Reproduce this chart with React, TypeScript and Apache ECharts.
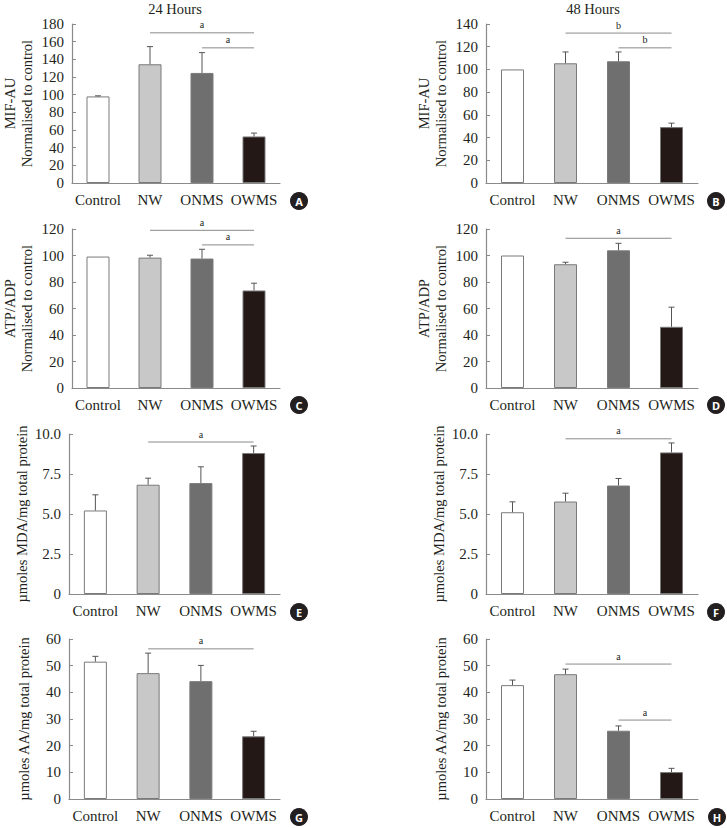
import React, { useEffect, useRef } from "react";
import * as echarts from "echarts";

const categories = ["Control", "NW", "ONMS", "OWMS"];
const barColors = ["#ffffff", "#c8c8c8", "#6f6f6f", "#231815"];

// A: MIF 24 h
const mifA = [98, 134.4, 124.6, 52.7];
const mifAErr = [98.7, 154.4, 147.6, 56.5];
const sigA = [[1, 3, 170], [2, 3, 153]];
const sigALabels = ["a", "a"];
// B: MIF 48 h
const mifB = [100, 105.4, 107.2, 49.2];
const mifBErr = [100, 115.4, 115.4, 52.7];
const sigB = [[1, 3, 132], [2, 3, 119]];
const sigBLabels = ["b", "b"];
// C: ATP/ADP 24 h
const atpC = [99.2, 98.4, 97.7, 73.6];
const atpCErr = [99.2, 100.2, 104.7, 79.1];
const sigC = [[1, 3, 119], [2, 3, 108]];
const sigCLabels = ["a", "a"];
// D: ATP/ADP 48 h
const atpD = [100, 93.4, 103.9, 46.2];
const atpDErr = [100, 94.9, 109.2, 61];
const sigD = [[1, 3, 113]];
const sigDLabels = ["a"];
// E: MDA 24 h
const mdaE = [5.22, 6.83, 6.93, 8.81];
const mdaEErr = [6.2, 7.24, 7.95, 9.25];
const sigE = [[1, 3, 9.5]];
const sigELabels = ["a"];
// F: MDA 48 h
const mdaF = [5.11, 5.78, 6.78, 8.85];
const mdaFErr = [5.76, 6.3, 7.22, 9.44];
const sigF = [[1, 3, 9.7]];
const sigFLabels = ["a"];
// G: AA 24 h
const aaG = [51.5, 47.2, 44.2, 23.5];
const aaGErr = [53.5, 54.7, 50.1, 25.4];
const sigG = [[1, 3, 56.3]];
const sigGLabels = ["a"];
// H: AA 48 h
const aaH = [42.7, 46.8, 25.6, 10.1];
const aaHErr = [44.6, 48.7, 27.4, 11.5];
const sigH = [[1, 3, 50.6], [2, 3, 29.6]];
const sigHLabels = ["a", "a"];

const columnTitles = ["24 Hours", "48 Hours"];
const panelLetters = ["A", "B", "C", "D", "E", "F", "G", "H"];

const mifName = "MIF-AU\nNormalised to control";
const atpName = "ATP/ADP\nNormalised to control";
const mdaName = "µmoles MDA/mg total protein";
const aaName = "µmoles AA/mg total protein";

const panels = [
  { vals: mifA, errs: mifAErr, sig: sigA, sigL: sigALabels, name: mifName, max: 180, interval: 20, dec: false },
  { vals: mifB, errs: mifBErr, sig: sigB, sigL: sigBLabels, name: mifName, max: 140, interval: 20, dec: false },
  { vals: atpC, errs: atpCErr, sig: sigC, sigL: sigCLabels, name: atpName, max: 120, interval: 20, dec: false },
  { vals: atpD, errs: atpDErr, sig: sigD, sigL: sigDLabels, name: atpName, max: 120, interval: 20, dec: false },
  { vals: mdaE, errs: mdaEErr, sig: sigE, sigL: sigELabels, name: mdaName, max: 10, interval: 2.5, dec: true },
  { vals: mdaF, errs: mdaFErr, sig: sigF, sigL: sigFLabels, name: mdaName, max: 10, interval: 2.5, dec: true },
  { vals: aaG, errs: aaGErr, sig: sigG, sigL: sigGLabels, name: aaName, max: 60, interval: 10, dec: false },
  { vals: aaH, errs: aaHErr, sig: sigH, sigL: sigHLabels, name: aaName, max: 60, interval: 10, dec: false },
];

const FONT = "'Liberation Serif', 'DejaVu Serif', serif";
const TEXT = "#231f20";
const AXIS = "#8a8a8a";

const colLeft = [69, 486];
const colWidth = [211, 212];
const rowTop = [24, 229, 434, 639];
const rowHeight = [159, 159, 160, 160];
const letterPos = [
  [299, 201], [716, 201], [299, 405], [716, 405],
  [299, 612], [716, 612], [299, 817], [717, 817],
];

function buildOption() {
  const grid: any[] = [];
  const xAxis: any[] = [];
  const yAxis: any[] = [];
  const series: any[] = [];
  panels.forEach((p, i) => {
    const col = i % 2;
    const row = Math.floor(i / 2);
    grid.push({ left: colLeft[col], top: rowTop[row], width: colWidth[col], height: rowHeight[row], containLabel: false });
    xAxis.push({
      type: "category",
      gridIndex: i,
      data: categories,
      axisLine: { lineStyle: { color: AXIS, width: 1.2 } },
      axisTick: { show: false },
      axisLabel: { color: TEXT, fontFamily: FONT, fontSize: 15, margin: 9, interval: 0, hideOverlap: false },
    });
    yAxis.push({
      type: "value",
      gridIndex: i,
      min: 0,
      max: p.max,
      interval: p.interval,
      name: p.name,
      nameLocation: "middle",
      nameRotate: 90,
      nameGap: 37,
      nameTextStyle: { color: TEXT, fontFamily: FONT, fontSize: 14.5, lineHeight: 17 },
      axisLine: { show: true, lineStyle: { color: AXIS, width: 1.2 } },
      axisTick: { show: true, inside: true, length: 4, lineStyle: { color: AXIS } },
      splitLine: { show: false },
      axisLabel: {
        color: TEXT,
        fontFamily: FONT,
        fontSize: 15,
        margin: 8,
        formatter: (v: number) => (p.dec ? (v === 0 ? "0" : v.toFixed(1)) : String(v)),
      },
    });
    series.push({
      type: "bar",
      xAxisIndex: i,
      yAxisIndex: i,
      barWidth: 23,
      data: p.vals.map((v, k) => ({
        value: v,
        itemStyle: { color: barColors[k], borderColor: "#7a7a7a", borderWidth: 1 },
      })),
    });
    series.push({
      type: "custom",
      xAxisIndex: i,
      yAxisIndex: i,
      z: 5,
      clip: false,
      data: p.vals.map((v, k) => [k, v, p.errs[k]]),
      encode: { x: 0, y: 2 },
      renderItem: (params: any, api: any) => {
        const x = api.value(0);
        const lo = api.coord([x, api.value(1)]);
        const hi = api.coord([x, api.value(2)]);
        if (Math.abs(lo[1] - hi[1]) < 0.5) return { type: "group", children: [] };
        const st = { stroke: "#555", lineWidth: 1 };
        return {
          type: "group",
          children: [
            { type: "line", shape: { x1: lo[0], y1: lo[1], x2: hi[0], y2: hi[1] }, style: st },
            { type: "line", shape: { x1: hi[0] - 3, y1: hi[1], x2: hi[0] + 3, y2: hi[1] }, style: st },
          ],
        };
      },
    });
    series.push({
      type: "custom",
      xAxisIndex: i,
      yAxisIndex: i,
      z: 6,
      clip: false,
      data: p.sig,
      encode: { x: [0, 1], y: 2 },
      renderItem: (params: any, api: any) => {
        const a = api.coord([api.value(0), api.value(2)]);
        const b = api.coord([api.value(1), api.value(2)]);
        return {
          type: "group",
          children: [
            { type: "line", shape: { x1: a[0], y1: a[1], x2: b[0], y2: b[1] }, style: { stroke: "#8a8a8a", lineWidth: 1 } },
            {
              type: "text",
              x: (a[0] + b[0]) / 2,
              y: a[1] - 8,
              style: {
                text: p.sigL[params.dataIndex],
                textAlign: "center",
                textVerticalAlign: "middle",
                fontFamily: FONT,
                fontSize: 10,
                fill: TEXT,
              },
            },
          ],
        };
      },
    });
  });

  const graphic: any[] = [];
  columnTitles.forEach((t, c) => {
    graphic.push({
      type: "text",
      x: colLeft[c] + [106, 107][c],
      y: 9,
      style: { text: t, textAlign: "center", textVerticalAlign: "middle", fontFamily: FONT, fontSize: 14.5, fill: TEXT },
    });
  });
  panelLetters.forEach((l, i) => {
    const [cx, cy] = letterPos[i];
    graphic.push({ type: "circle", shape: { cx, cy, r: 9 }, style: { fill: "#231f20" } });
    graphic.push({
      type: "text",
      x: cx,
      y: cy,
      style: {
        text: l,
        textAlign: "center",
        textVerticalAlign: "middle",
        fontFamily: "'Noto Sans', 'DejaVu Sans', sans-serif",
        fontWeight: "bold",
        fontSize: 11,
        fill: "#ffffff",
      },
    });
  });

  return {
    animation: false,
    backgroundColor: "#ffffff",
    grid,
    xAxis,
    yAxis,
    series,
    graphic,
  };
}

export default function App() {
  const ref = useRef<HTMLDivElement>(null);
  useEffect(() => {
    if (!ref.current) return;
    const chart = echarts.init(ref.current, undefined, { renderer: "svg" });
    chart.setOption(buildOption() as any);
    return () => chart.dispose();
  }, []);
  return (
    <div
      ref={ref}
      style={{ position: "absolute", left: 0, top: 0, width: 727, height: 828 }}
    />
  );
}
